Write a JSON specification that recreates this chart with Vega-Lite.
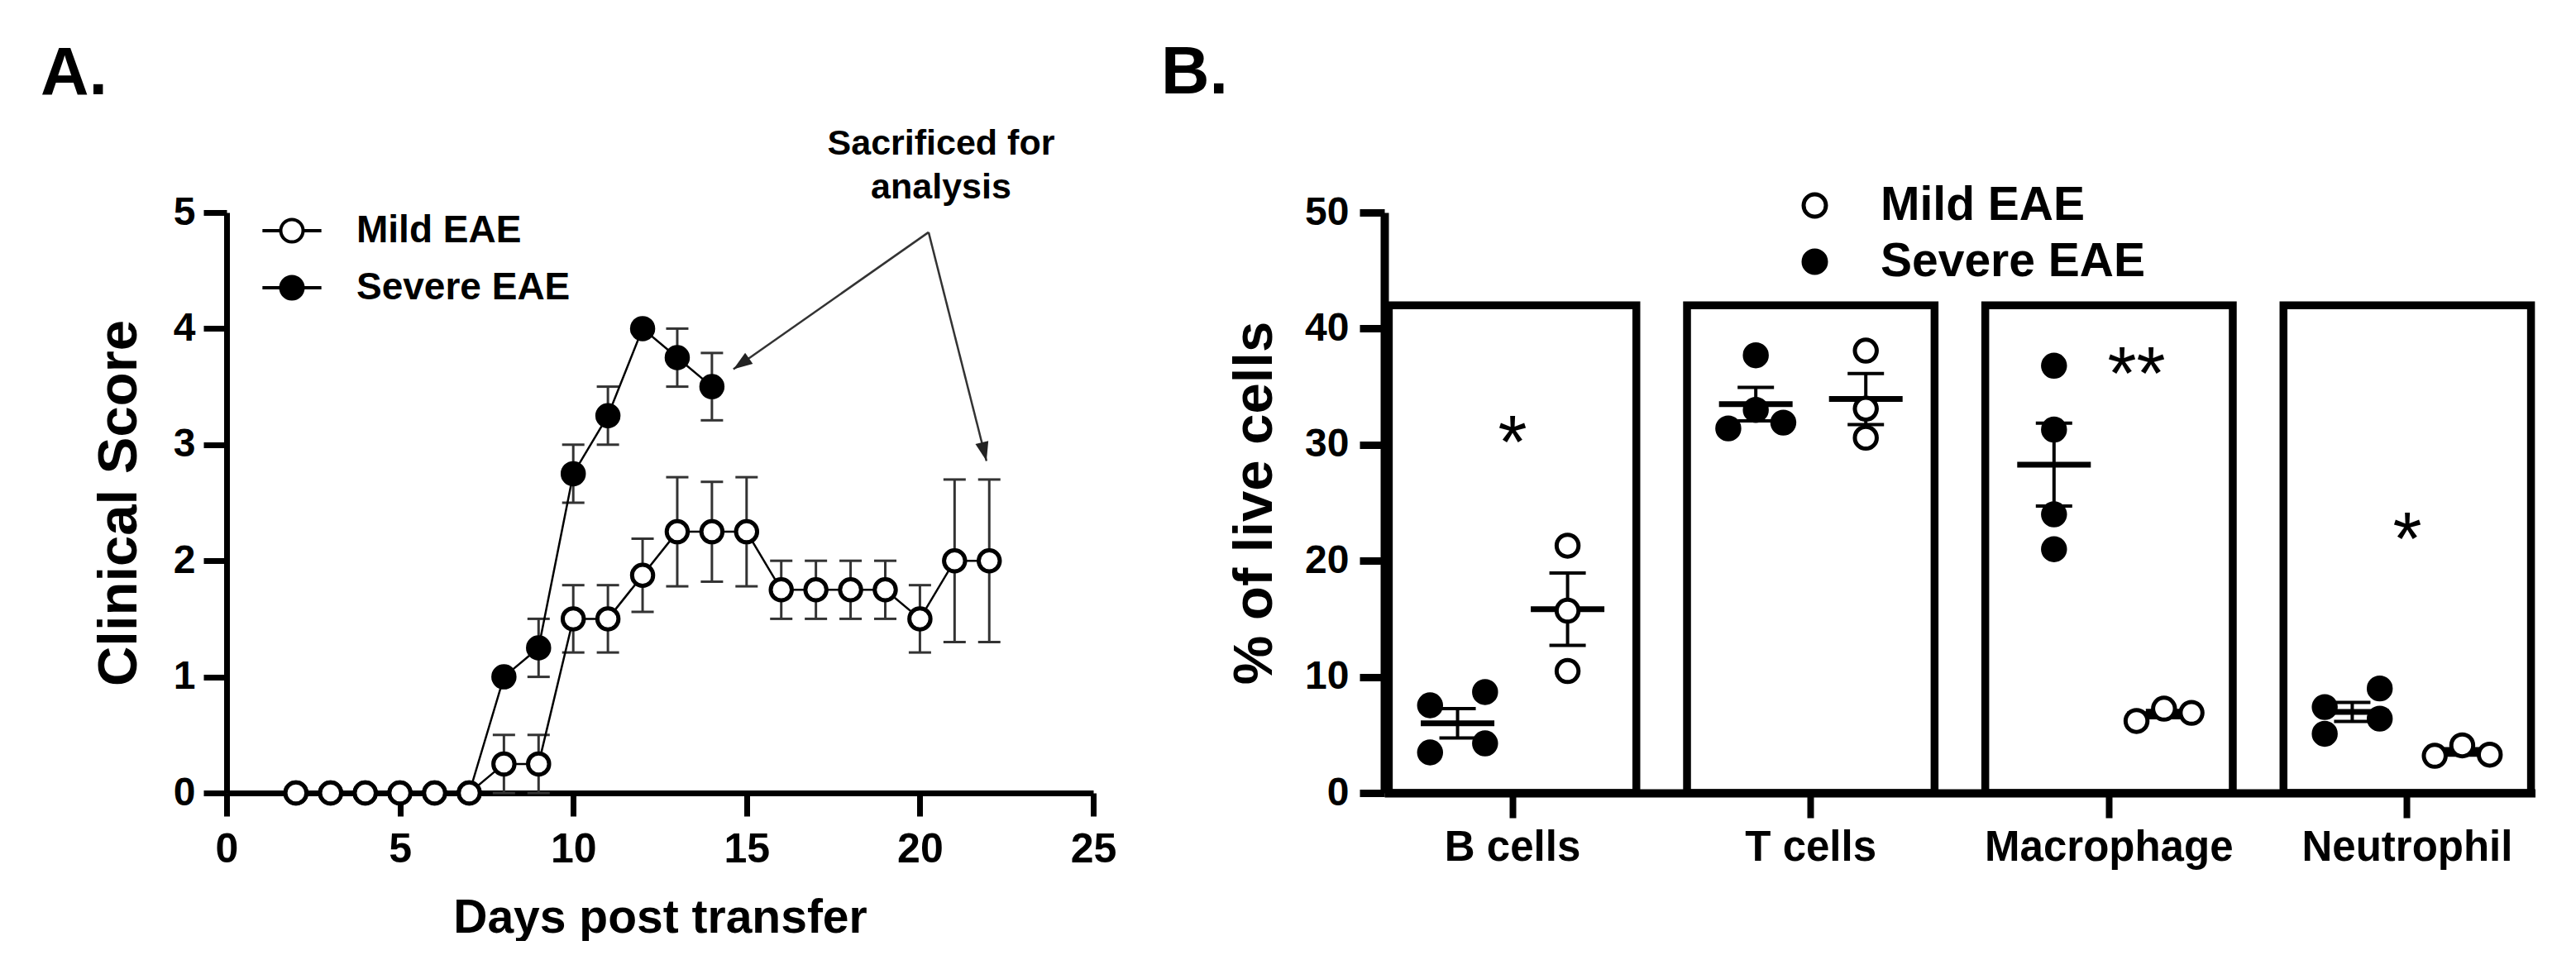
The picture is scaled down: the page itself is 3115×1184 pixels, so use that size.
{
  "$schema": "https://vega.github.io/schema/vega-lite/v6.json",
  "background": "white",
  "padding": {"left": 49, "top": 48, "right": 0, "bottom": 0},
  "spacing": 54,
  "datasets": {
    "scores": [
      {"day": 2, "group": "Severe EAE", "score": 0, "lower": 0, "upper": 0},
      {"day": 3, "group": "Severe EAE", "score": 0, "lower": 0, "upper": 0},
      {"day": 4, "group": "Severe EAE", "score": 0, "lower": 0, "upper": 0},
      {"day": 5, "group": "Severe EAE", "score": 0, "lower": 0, "upper": 0},
      {"day": 6, "group": "Severe EAE", "score": 0, "lower": 0, "upper": 0},
      {"day": 7, "group": "Severe EAE", "score": 0, "lower": 0, "upper": 0},
      {"day": 8, "group": "Severe EAE", "score": 1.0, "lower": 1.0, "upper": 1.0},
      {"day": 9, "group": "Severe EAE", "score": 1.25, "lower": 1.0, "upper": 1.5},
      {"day": 10, "group": "Severe EAE", "score": 2.75, "lower": 2.5, "upper": 3.0},
      {"day": 11, "group": "Severe EAE", "score": 3.25, "lower": 3.0, "upper": 3.5},
      {"day": 12, "group": "Severe EAE", "score": 4.0, "lower": 4.0, "upper": 4.0},
      {"day": 13, "group": "Severe EAE", "score": 3.75, "lower": 3.5, "upper": 4.0},
      {"day": 14, "group": "Severe EAE", "score": 3.5, "lower": 3.21, "upper": 3.79},
      {"day": 2, "group": "Mild EAE", "score": 0, "lower": 0, "upper": 0},
      {"day": 3, "group": "Mild EAE", "score": 0, "lower": 0, "upper": 0},
      {"day": 4, "group": "Mild EAE", "score": 0, "lower": 0, "upper": 0},
      {"day": 5, "group": "Mild EAE", "score": 0, "lower": 0, "upper": 0},
      {"day": 6, "group": "Mild EAE", "score": 0, "lower": 0, "upper": 0},
      {"day": 7, "group": "Mild EAE", "score": 0, "lower": 0, "upper": 0},
      {"day": 8, "group": "Mild EAE", "score": 0.25, "lower": 0, "upper": 0.5},
      {"day": 9, "group": "Mild EAE", "score": 0.25, "lower": 0, "upper": 0.5},
      {"day": 10, "group": "Mild EAE", "score": 1.5, "lower": 1.21, "upper": 1.79},
      {"day": 11, "group": "Mild EAE", "score": 1.5, "lower": 1.21, "upper": 1.79},
      {"day": 12, "group": "Mild EAE", "score": 1.875, "lower": 1.56, "upper": 2.19},
      {"day": 13, "group": "Mild EAE", "score": 2.25, "lower": 1.78, "upper": 2.72},
      {"day": 14, "group": "Mild EAE", "score": 2.25, "lower": 1.82, "upper": 2.68},
      {"day": 15, "group": "Mild EAE", "score": 2.25, "lower": 1.78, "upper": 2.72},
      {"day": 16, "group": "Mild EAE", "score": 1.75, "lower": 1.5, "upper": 2.0},
      {"day": 17, "group": "Mild EAE", "score": 1.75, "lower": 1.5, "upper": 2.0},
      {"day": 18, "group": "Mild EAE", "score": 1.75, "lower": 1.5, "upper": 2.0},
      {"day": 19, "group": "Mild EAE", "score": 1.75, "lower": 1.5, "upper": 2.0},
      {"day": 20, "group": "Mild EAE", "score": 1.5, "lower": 1.21, "upper": 1.79},
      {"day": 21, "group": "Mild EAE", "score": 2.0, "lower": 1.3, "upper": 2.7},
      {"day": 22, "group": "Mild EAE", "score": 2.0, "lower": 1.3, "upper": 2.7}
    ],
    "cells": [
      {"cell": "B cells"}, {"cell": "T cells"}, {"cell": "Macrophage"}, {"cell": "Neutrophil"}
    ],
    "points": [
      {"cell": "B cells", "group": "Severe EAE", "slot": "S1", "value": 7.55},
      {"cell": "B cells", "group": "Severe EAE", "slot": "S3", "value": 8.69},
      {"cell": "B cells", "group": "Severe EAE", "slot": "S1", "value": 3.49},
      {"cell": "B cells", "group": "Severe EAE", "slot": "S3", "value": 4.27},
      {"cell": "T cells", "group": "Severe EAE", "slot": "S2", "value": 37.7},
      {"cell": "T cells", "group": "Severe EAE", "slot": "S1", "value": 31.4},
      {"cell": "T cells", "group": "Severe EAE", "slot": "S3", "value": 31.9},
      {"cell": "T cells", "group": "Severe EAE", "slot": "S2", "value": 33.0},
      {"cell": "Macrophage", "group": "Severe EAE", "slot": "S2", "value": 36.8},
      {"cell": "Macrophage", "group": "Severe EAE", "slot": "S2", "value": 31.3},
      {"cell": "Macrophage", "group": "Severe EAE", "slot": "S2", "value": 24.0},
      {"cell": "Macrophage", "group": "Severe EAE", "slot": "S2", "value": 21.0},
      {"cell": "Neutrophil", "group": "Severe EAE", "slot": "S1", "value": 7.4},
      {"cell": "Neutrophil", "group": "Severe EAE", "slot": "S1", "value": 5.1},
      {"cell": "Neutrophil", "group": "Severe EAE", "slot": "S3", "value": 9.0},
      {"cell": "Neutrophil", "group": "Severe EAE", "slot": "S3", "value": 6.4},
      {"cell": "B cells", "group": "Mild EAE", "slot": "M2", "value": 21.3},
      {"cell": "B cells", "group": "Mild EAE", "slot": "M2", "value": 15.7},
      {"cell": "B cells", "group": "Mild EAE", "slot": "M2", "value": 10.5},
      {"cell": "T cells", "group": "Mild EAE", "slot": "M2", "value": 38.1},
      {"cell": "T cells", "group": "Mild EAE", "slot": "M2", "value": 33.1},
      {"cell": "T cells", "group": "Mild EAE", "slot": "M2", "value": 30.6},
      {"cell": "Macrophage", "group": "Mild EAE", "slot": "M1", "value": 6.2},
      {"cell": "Macrophage", "group": "Mild EAE", "slot": "M2", "value": 7.26},
      {"cell": "Macrophage", "group": "Mild EAE", "slot": "M3", "value": 6.9},
      {"cell": "Neutrophil", "group": "Mild EAE", "slot": "M1", "value": 3.2},
      {"cell": "Neutrophil", "group": "Mild EAE", "slot": "M2", "value": 4.1},
      {"cell": "Neutrophil", "group": "Mild EAE", "slot": "M3", "value": 3.3}
    ],
    "summary": [
      {"cell": "B cells", "group": "Severe EAE", "slot": "S2", "mean": 6.0, "lo": 4.74, "hi": 7.26},
      {"cell": "B cells", "group": "Mild EAE", "slot": "M2", "mean": 15.83, "lo": 12.71, "hi": 18.95},
      {"cell": "T cells", "group": "Severe EAE", "slot": "S2", "mean": 33.5, "lo": 32.06, "hi": 34.94},
      {"cell": "T cells", "group": "Mild EAE", "slot": "M2", "mean": 33.93, "lo": 31.73, "hi": 36.13},
      {"cell": "Macrophage", "group": "Severe EAE", "slot": "S2", "mean": 28.28, "lo": 24.71, "hi": 31.85},
      {"cell": "Macrophage", "group": "Mild EAE", "slot": "M2", "mean": 6.79, "lo": 6.48, "hi": 7.1},
      {"cell": "Neutrophil", "group": "Severe EAE", "slot": "S2", "mean": 6.98, "lo": 6.16, "hi": 7.8},
      {"cell": "Neutrophil", "group": "Mild EAE", "slot": "M2", "mean": 3.53, "lo": 3.25, "hi": 3.81}
    ],
    "stars": [
      {"cell": "B cells", "slot": "gap", "label": "*", "value": 30.9},
      {"cell": "Macrophage", "slot": "M1", "label": "**", "value": 36.8},
      {"cell": "Neutrophil", "slot": "gap", "label": "*", "value": 22.6}
    ]
  },
  "hconcat": [
    {
      "width": 1048,
      "height": 702,
      "title": {"text": "A.", "anchor": "start", "frame": "group", "fontSize": 81, "baseline": "alphabetic", "dx": -225, "offset": -42},
      "layer": [
        {
          "data": {"name": "scores"},
          "transform": [{"filter": "datum.upper > datum.lower"}],
          "mark": {"type": "rule", "color": "#333333", "strokeWidth": 3},
          "encoding": {
            "x": {"field": "day", "type": "quantitative", "scale": {"domain": [0, 25], "nice": false},
              "axis": {"title": "Days post transfer", "values": [0, 5, 10, 15, 20, 25], "format": "d", "labelFontSize": 50, "titleFontSize": 57, "tickSize": 28, "tickWidth": 7, "domainWidth": 7, "labelPadding": 15, "titlePadding": 30, "labelFlush": false}},
            "y": {"field": "lower", "type": "quantitative", "scale": {"domain": [0, 5], "nice": false},
              "axis": {"title": "Clinical Score", "values": [0, 1, 2, 3, 4, 5], "format": "d", "labelFontSize": 48, "titleFontSize": 67, "tickSize": 28, "tickWidth": 7, "domainWidth": 7, "labelPadding": 10, "titlePadding": 31}},
            "y2": {"field": "upper"}
          }
        },
        {
          "data": {"name": "scores"},
          "transform": [{"filter": "datum.upper > datum.lower"}],
          "mark": {"type": "tick", "orient": "horizontal", "color": "#333333", "size": 27, "thickness": 3, "opacity": 1},
          "encoding": {
            "x": {"field": "day", "type": "quantitative"},
            "y": {"field": "upper", "type": "quantitative"}
          }
        },
        {
          "data": {"name": "scores"},
          "transform": [{"filter": "datum.upper > datum.lower"}],
          "mark": {"type": "tick", "orient": "horizontal", "color": "#333333", "size": 27, "thickness": 3, "opacity": 1},
          "encoding": {
            "x": {"field": "day", "type": "quantitative"},
            "y": {"field": "lower", "type": "quantitative"}
          }
        },
        {
          "data": {"name": "scores"},
          "mark": {"type": "line", "color": "black", "strokeWidth": 2.5},
          "encoding": {
            "x": {"field": "day", "type": "quantitative"},
            "y": {"field": "score", "type": "quantitative"},
            "detail": {"field": "group"}
          }
        },
        {
          "data": {"name": "scores"},
          "mark": {"type": "point", "shape": "circle", "filled": true, "stroke": "black", "strokeWidth": 5, "size": 650, "opacity": 1},
          "encoding": {
            "x": {"field": "day", "type": "quantitative"},
            "y": {"field": "score", "type": "quantitative"},
            "fill": {"field": "group", "type": "nominal",
              "scale": {"domain": ["Mild EAE", "Severe EAE"], "range": ["white", "black"]},
              "legend": {"title": null, "orient": "none", "legendX": 56, "legendY": -1, "padding": 0,
                "symbolType": "M-2.64,0L-1,0M1,0L2.64,0M-1,0A1,1,0,1,1,1,0A1,1,0,1,1,-1,0Z",
                "symbolSize": 729, "symbolStrokeWidth": 4, "symbolStrokeColor": "black",
                "labelFontSize": 46, "labelOffset": 55, "labelLimit": 0, "rowPadding": 23}}
          }
        },
        {
          "data": {"values": [{"x": 20.61, "y": 5.5, "text": "Sacrificed for\nanalysis"}]},
          "mark": {"type": "text", "fontSize": 43, "fontWeight": "bold", "align": "center", "baseline": "alphabetic", "lineBreak": "\n", "lineHeight": 53, "color": "black"},
          "encoding": {
            "x": {"field": "x", "type": "quantitative"},
            "y": {"field": "y", "type": "quantitative"},
            "text": {"field": "text"}
          }
        },
        {
          "data": {"values": [
            {"x": 20.25, "y": 4.83, "x2": 14.62, "y2": 3.65},
            {"x": 20.25, "y": 4.83, "x2": 21.92, "y2": 2.86}
          ]},
          "mark": {"type": "rule", "color": "#333333", "strokeWidth": 2.5},
          "encoding": {
            "x": {"field": "x", "type": "quantitative"},
            "y": {"field": "y", "type": "quantitative"},
            "x2": {"field": "x2"},
            "y2": {"field": "y2"}
          }
        },
        {
          "data": {"values": [{"x": 14.62, "y": 3.65}]},
          "mark": {"type": "point", "shape": "M0,0L-0.7,2L0.7,2Z", "filled": true, "color": "#222222", "size": 529, "angle": 235, "opacity": 1},
          "encoding": {
            "x": {"field": "x", "type": "quantitative"},
            "y": {"field": "y", "type": "quantitative"}
          }
        },
        {
          "data": {"values": [{"x": 21.92, "y": 2.86}]},
          "mark": {"type": "point", "shape": "M0,0L-0.7,2L0.7,2Z", "filled": true, "color": "#222222", "size": 529, "angle": 166, "opacity": 1},
          "encoding": {
            "x": {"field": "x", "type": "quantitative"},
            "y": {"field": "y", "type": "quantitative"}
          }
        }
      ]
    },
    {
      "width": 1392,
      "height": 702,
      "title": {"text": "B.", "anchor": "start", "frame": "group", "fontSize": 81, "baseline": "alphabetic", "dx": -270, "offset": 26},
      "layer": [
        {
          "data": {"name": "cells"},
          "mark": {"type": "rect", "fill": "transparent", "stroke": "black", "strokeWidth": 9.5},
          "encoding": {
            "x": {"field": "cell", "type": "nominal",
              "scale": {"domain": ["B cells", "T cells", "Macrophage", "Neutrophil"], "paddingInner": 0.17, "paddingOuter": 0.015},
              "axis": {"title": null, "labelAngle": 0, "labelFontSize": 51, "labelLimit": 0, "tickSize": 30, "tickWidth": 8, "domainWidth": 10, "labelPadding": 11, "bandPosition": 0.5}},
            "y": {"datum": 42, "type": "quantitative", "scale": {"domain": [0, 50], "nice": false},
              "axis": {"title": "% of live cells", "values": [0, 10, 20, 30, 40, 50], "format": "d", "labelFontSize": 48, "titleFontSize": 67, "tickSize": 30, "tickWidth": 9, "domainWidth": 10, "labelPadding": 13, "titlePadding": 26}},
            "y2": {"datum": 0}
          }
        },
        {
          "data": {"name": "summary"},
          "mark": {"type": "rule", "color": "black", "strokeWidth": 4},
          "encoding": {
            "x": {"field": "cell", "type": "nominal"},
            "xOffset": {"field": "slot", "type": "nominal", "scale": {"domain": ["S1", "S2", "S3", "gap", "M1", "M2", "M3"], "paddingOuter": 1.035, "paddingInner": 0}},
            "y": {"field": "lo", "type": "quantitative"},
            "y2": {"field": "hi"}
          }
        },
        {
          "data": {"name": "summary"},
          "mark": {"type": "tick", "orient": "horizontal", "color": "black", "size": 44, "thickness": 4, "opacity": 1},
          "encoding": {
            "x": {"field": "cell", "type": "nominal"},
            "xOffset": {"field": "slot", "type": "nominal"},
            "y": {"field": "hi", "type": "quantitative"}
          }
        },
        {
          "data": {"name": "summary"},
          "mark": {"type": "tick", "orient": "horizontal", "color": "black", "size": 44, "thickness": 4, "opacity": 1},
          "encoding": {
            "x": {"field": "cell", "type": "nominal"},
            "xOffset": {"field": "slot", "type": "nominal"},
            "y": {"field": "lo", "type": "quantitative"}
          }
        },
        {
          "data": {"name": "summary"},
          "mark": {"type": "tick", "orient": "horizontal", "color": "black", "size": 89, "thickness": 7, "opacity": 1},
          "encoding": {
            "x": {"field": "cell", "type": "nominal"},
            "xOffset": {"field": "slot", "type": "nominal"},
            "y": {"field": "mean", "type": "quantitative"}
          }
        },
        {
          "data": {"name": "points"},
          "mark": {"type": "point", "shape": "circle", "filled": true, "stroke": "black", "strokeWidth": 5, "size": 700, "opacity": 1},
          "encoding": {
            "x": {"field": "cell", "type": "nominal"},
            "xOffset": {"field": "slot", "type": "nominal"},
            "y": {"field": "value", "type": "quantitative"},
            "fill": {"field": "group", "type": "nominal",
              "scale": {"domain": ["Mild EAE", "Severe EAE"], "range": ["white", "black"]},
              "legend": {"title": null, "orient": "none", "legendX": 492, "legendY": -37, "padding": 0,
                "symbolType": "circle", "symbolSize": 729, "symbolStrokeWidth": 5, "symbolStrokeColor": "black",
                "labelFontSize": 57, "labelOffset": 51, "labelLimit": 0, "rowPadding": 10}}
          }
        },
        {
          "data": {"name": "stars"},
          "mark": {"type": "text", "fontSize": 90, "fontWeight": "normal", "align": "center", "baseline": "middle", "dy": 14, "color": "black"},
          "encoding": {
            "x": {"field": "cell", "type": "nominal"},
            "xOffset": {"field": "slot", "type": "nominal"},
            "y": {"field": "value", "type": "quantitative"},
            "text": {"field": "label"}
          }
        }
      ]
    }
  ],
  "resolve": {"scale": {"fill": "independent"}, "legend": {"fill": "independent"}},
  "config": {
    "view": {"stroke": null},
    "font": "Liberation Sans",
    "axis": {"domainColor": "black", "tickColor": "black", "labelColor": "black", "titleColor": "black", "labelFontWeight": "bold", "titleFontWeight": "bold", "grid": false, "labelFont": "Liberation Sans", "titleFont": "Liberation Sans"},
    "legend": {"labelFont": "Liberation Sans", "labelFontWeight": "bold", "labelColor": "black"},
    "title": {"font": "Liberation Sans", "fontWeight": "bold", "color": "black"}
  }
}
